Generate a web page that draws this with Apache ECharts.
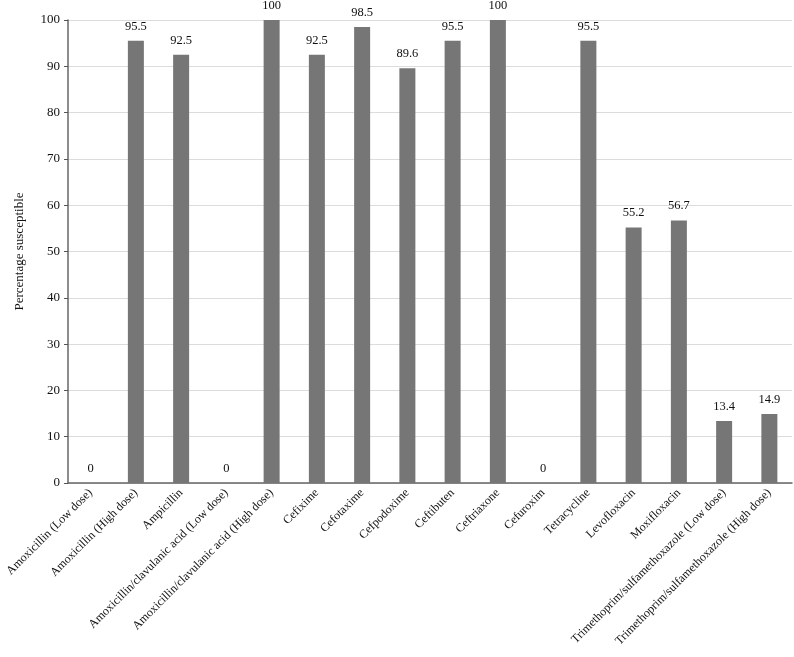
<!DOCTYPE html>
<html>
<head>
<meta charset="utf-8">
<script src="https://cdn.jsdelivr.net/npm/echarts@6/dist/echarts.min.js"></script>
<style>
  html, body { margin: 0; padding: 0; background: #fff; }
  #container { width: 794px; height: 657px; }
</style>
</head>
<body>
<div id="container"></div>
<script>
// data
var drugs = [
    'Amoxicillin (Low dose)',
    'Amoxicillin (High dose)',
    'Ampicillin',
    'Amoxicillin/clavulanic acid (Low dose)',
    'Amoxicillin/clavulanic acid (High dose)',
    'Cefixime',
    'Cefotaxime',
    'Cefpodoxime',
    'Ceftibuten',
    'Ceftriaxone',
    'Cefuroxim',
    'Tetracycline',
    'Levofloxacin',
    'Moxifloxacin',
    'Trimethoprim/sulfamethoxazole (Low dose)',
    'Trimethoprim/sulfamethoxazole (High dose)'
];
var susceptible = [0, 95.5, 92.5, 0, 100, 92.5, 98.5, 89.6, 95.5, 100, 0, 95.5, 55.2, 56.7, 13.4, 14.9];
var yTicks = { min: 0, max: 100, interval: 10 };

var fontFam = 'Liberation Serif';

var dom = document.getElementById('container');
var myChart = echarts.init(dom, null, { renderer: 'canvas' });

var option = {
    animation: false,
    textStyle: { fontFamily: fontFam },
    grid: {
        left: 68,
        right: 2,
        top: 20,
        bottom: 174,
        containLabel: false,
        outerBoundsMode: 'none'
    },
    xAxis: {
        type: 'category',
        data: drugs,
        axisLine: { lineStyle: { color: '#666', width: 1.5 } },
        axisTick: { alignWithLabel: true, length: 5, lineStyle: { color: '#555' } },
        axisLabel: {
            rotate: 45,
            interval: 0,
            margin: 8,
            color: '#111',
            fontSize: 12,
            fontFamily: fontFam
        }
    },
    yAxis: {
        type: 'value',
        min: yTicks.min,
        max: yTicks.max,
        interval: yTicks.interval,
        name: 'Percentage susceptible',
        nameLocation: 'middle',
        nameGap: 42,
        nameTextStyle: { color: '#111', fontSize: 13, fontFamily: fontFam },
        axisLine: { show: true, lineStyle: { color: '#666', width: 1.5 } },
        axisTick: { show: true, length: 4, lineStyle: { color: '#555' } },
        axisLabel: { color: '#111', fontSize: 13, fontFamily: fontFam, margin: 8 },
        splitLine: { lineStyle: { color: '#dcdcdc' } }
    },
    series: [
        {
            type: 'bar',
            data: susceptible,
            barWidth: 16,
            itemStyle: { color: '#767676' },
            label: {
                show: true,
                position: 'top',
                distance: 8,
                color: '#111',
                fontSize: 12.5,
                fontFamily: fontFam
            }
        }
    ]
};

myChart.setOption(option);
window.addEventListener('resize', myChart.resize);
</script>
</body>
</html>
